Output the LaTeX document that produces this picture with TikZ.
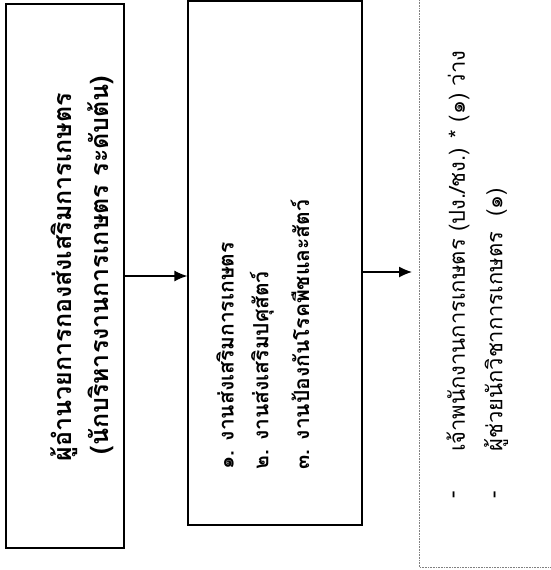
\documentclass[tikz,border=0pt]{standalone}
\usepackage{fontspec}
\newfontfamily\thaifont[Script=Thai]{Loma}
\usetikzlibrary{arrows.meta}
\begin{document}
\begin{tikzpicture}[x=1pt,y=1pt,
  box/.style={draw,line width=1.3pt,rectangle,inner sep=0pt},
  vtext/.style={rotate=90,inner sep=0pt,font=\thaifont\fontsize{22}{24}\selectfont},
  btext/.style={rotate=90,inner sep=0pt,font=\thaifont\bfseries\fontsize{21}{24}\selectfont},
  htext/.style={rotate=90,inner sep=0pt,font=\thaifont\bfseries\fontsize{25}{28}\selectfont},
  conn/.style={line width=1.3pt,-{Latex[length=13pt,width=11pt]}},
  dotline/.style={gray,line width=0.6pt,densely dotted}]
\useasboundingbox (0,0) rectangle (550,-570);
\node[box,minimum width=118pt,minimum height=544pt] (b1) at (65,-276) {};
\node[box,minimum width=174pt,minimum height=524pt] (b2) at (275,-263) {};
\coordinate (d1) at (419,0);
\coordinate (d2) at (419,-567);
\coordinate (d3) at (550,-567);
\draw[dotline] (d1) -- (d2) -- (d3);
\coordinate (a2) at (412,-272);
\draw[conn] (b1.east) -- (b1.east -| b2.west);
\draw[conn] (b2.east |- a2) -- (a2);
% box 1 text
\node[htext] (t1) at (64,-277) {ผู้อำนวยการกองส่งเสริมการเกษตร};
\node[htext] (t2) at (101,-265) {(นักบริหารงานการเกษตร ระดับต้น)};
% box 2 text
\node[btext,anchor=west] (t3) at (225,-470) {๑. งานส่งเสริมการเกษตร};
\node[btext,anchor=west] (t4) at (262,-470) {๒. งานส่งเสริมปศุสัตว์};
\node[btext,anchor=west] (t5) at (300,-470) {๓. งานป้องกันโรคพืชและสัตว์};
% box 3 text
\node[vtext] (m1) at (456,-495) {-};
\node[vtext] (m2) at (497,-495) {-};
\node[vtext,anchor=west] (t6) at (458,-452) {เจ้าพนักงานการเกษตร (ปง./ชง.) * (๑) ว่าง};
\node[vtext,anchor=west] (t7) at (496,-452) {ผู้ช่วยนักวิชาการเกษตร\ \ (๑)};
\end{tikzpicture}
\end{document}
